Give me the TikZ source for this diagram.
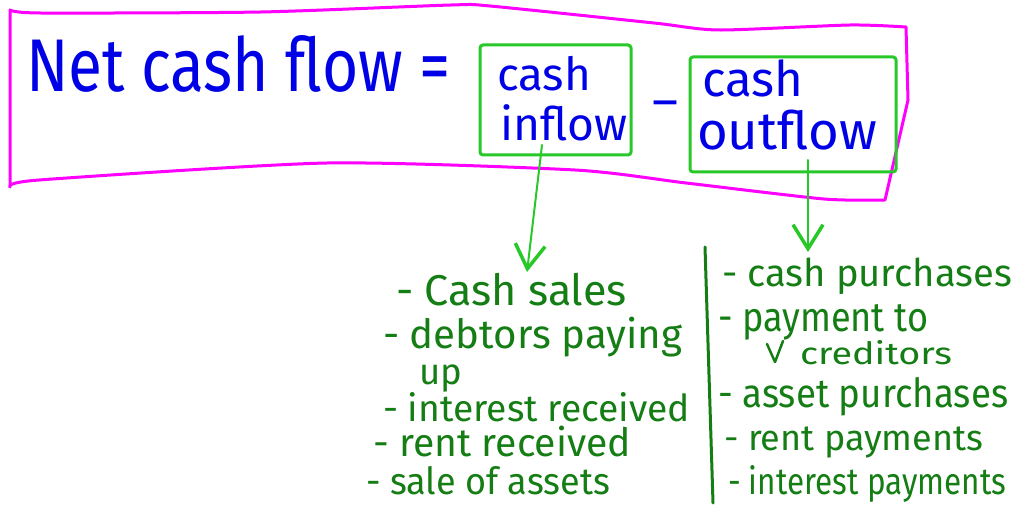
\documentclass[tikz,border=0pt]{standalone}
\usepackage{fontspec}
\setmainfont{Fira Sans}
\usetikzlibrary{arrows.meta}
\definecolor{penblue}{RGB}{0,0,230}
\definecolor{penmag}{RGB}{255,0,255}
\definecolor{penlgreen}{RGB}{40,200,40}
\definecolor{pendgreen}{RGB}{20,125,20}
\newcommand\fitw[2]{\resizebox{#1pt}{!}{#2}}
\newcommand\fitwh[3]{\resizebox{#1pt}{#2pt}{#3}}
\begin{document}
\begin{tikzpicture}[x=1pt,y=-1pt,
  hand/.style={anchor=base west,inner sep=0pt,outer sep=0pt},
  bluetext/.style={hand,text=penblue},
  listtext/.style={hand,text=pendgreen},
  magstroke/.style={draw=penmag,line width=3pt,line join=round,line cap=round},
  greenbox/.style={draw=penlgreen,line width=3pt,rectangle,rounded corners=3pt,inner sep=0pt},
  arrowstroke/.style={draw=penlgreen,line width=2pt,line cap=round,-{Straight Barb[length=24pt,width=30pt,line width=3.5pt]}},
  divider/.style={draw=pendgreen,line width=3pt,line cap=round},
  tick/.style={draw=pendgreen,line width=2.5pt,line cap=round,line join=round}]
\useasboundingbox (0,0) rectangle (1024,510);
\fill[white] (0,0) rectangle (1024,510);
% magenta frame
\draw[magstroke] plot[smooth,tension=0.4] coordinates {(10,10)(40,13)(261,12)(451,5)(490,6)(654,23)(719,30)(850,25)(906,27)}
  -- (908,100) -- (885,200)
  -- plot[smooth,tension=0.4] coordinates {(885,200)(824,199)(686,183)(575,170)(327,163)(39,180)(10,187)}
  -- cycle;
% equation
\node[bluetext] (net) at (26,92) {\fitwh{425}{56}{Net cash flow =}};
\node[greenbox,minimum width=151pt,minimum height=110pt] (box1) at (555.5,100) {};
\node[greenbox,minimum width=206pt,minimum height=115pt] (box2) at (793,114.5) {};
\node[bluetext] (cashin) at (497,91) {\fitw{94}{cash}};
\node[bluetext] (inflow) at (500,141) {\fitw{127}{inflow}};
\node[anchor=base,inner sep=0pt,text=penblue,font=\fontsize{50}{50}\selectfont] (minus) at (665,119) {–};
\node[bluetext] (cashout) at (702,97) {\fitw{101}{cash}};
\node[bluetext] (outflow) at (697,150) {\fitw{180}{outflow}};
% arrows
\coordinate (a1s) at (542,145);
\coordinate (a1e) at (527,272);
\coordinate (a2s) at (808,160);
\coordinate (a2e) at (808,252);
\draw[arrowstroke] (a1s) -- (a1e);
\draw[arrowstroke] (a2s) -- (a2e);
% divider
\coordinate (dtop) at (705,247);
\coordinate (dbot) at (713,503);
\draw[divider] (dtop) -- (dbot);
% inflow list
\node[listtext] (l1) at (396,305) {\fitw{231}{- Cash sales}};
\node[listtext] (l2) at (383,348) {\fitw{299}{- debtors paying}};
\node[listtext] (l2b) at (419,384) {\fitw{43}{up}};
\node[listtext] (l3) at (383,421) {\fitwh{307}{29}{- interest received}};
\node[listtext] (l4) at (373,456) {\fitw{258}{- rent received}};
\node[listtext] (l5) at (366,494) {\fitwh{244}{28}{- sale of assets}};
% outflow list
\node[listtext] (r1) at (722,287) {\fitw{290}{- cash purchases}};
\node[listtext] (r2) at (718,331) {\fitwh{210}{27}{- payment to}};
\node[listtext] (r2b) at (800,364) {\fitwh{152}{24}{creditors}};
\node[listtext] (r3) at (718,407) {\fitwh{290}{30}{- asset purchases}};
\node[listtext] (r4) at (724,450) {\fitw{259}{- rent payments}};
\node[listtext] (r5) at (728,494) {\fitwh{278}{29}{- interest payments}};
\coordinate (t1) at (767,344);
\coordinate (t2) at (775,362);
\coordinate (t3) at (783,341);
\draw[tick] (t1) -- (t2) -- (t3);
\end{tikzpicture}
\end{document}
